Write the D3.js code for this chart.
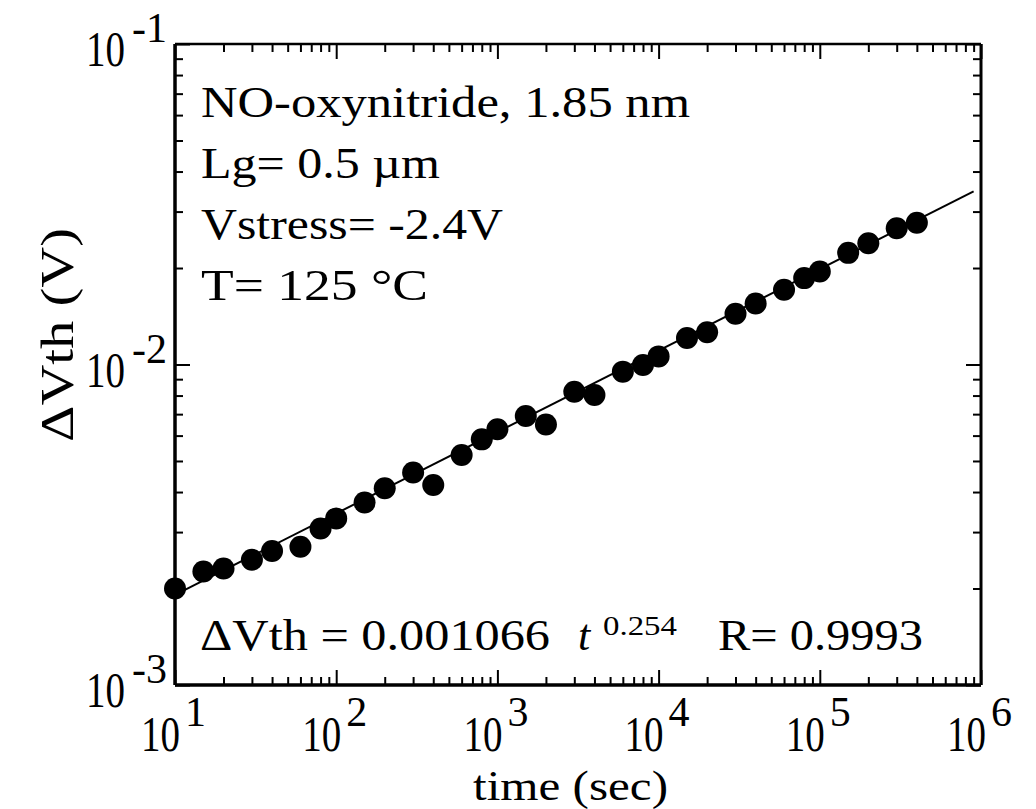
<!DOCTYPE html>
<html>
<head>
<meta charset="utf-8">
<script src="https://cdn.jsdelivr.net/npm/d3@7"></script>
<style>
  body { margin: 0; background: #fff; }
  text { font-family: "Liberation Serif", "Times New Roman", serif; fill: #000; }
</style>
</head>
<body>
<script>
// stress time (s) and threshold voltage shift (V)
const timeSec = [10, 15, 20, 30, 40, 60, 80, 100, 150, 200, 300, 400, 600, 800,
  1000, 1500, 2000, 3000, 4000, 6000, 8000, 10000, 15000, 20000, 30000, 40000,
  60000, 80000, 100000, 150000, 200000, 300000, 400000];
const dVth = [0.00200, 0.00226, 0.00231, 0.00246, 0.00262, 0.00270, 0.00308,
  0.00331, 0.00371, 0.00411, 0.00460, 0.00421, 0.00522, 0.00584, 0.00628,
  0.00691, 0.00650, 0.00822, 0.00803, 0.00950, 0.00996, 0.0106, 0.0121,
  0.0126, 0.0144, 0.0155, 0.0171, 0.0186, 0.0195, 0.0223, 0.0239, 0.0266, 0.0277];

// power-law fit line end points
const fitTime = [10, 900000];
const fitDVth = [0.00191, 0.0347];

const xExponents = [1, 2, 3, 4, 5, 6];
const yExponents = [-1, -2, -3];
const infoLines = ["NO-oxynitride, 1.85 nm", "Lg= 0.5 \u00b5m", "Vstress= -2.4V", "T= 125 \u00b0C"];
const fitLabel = "\u0394Vth = 0.001066";
const fitExponent = "0.254";
const rLabel = "R= 0.9993";

const width = 1036, height = 809;
const plotL = 175, plotR = 981, plotT = 44, plotB = 685;

const svg = d3.select("body").append("svg")
  .attr("width", width).attr("height", height);

const x = d3.scaleLog().domain([10, 1e6]).range([plotL, plotR]);
const y = d3.scaleLog().domain([1e-3, 1e-1]).range([plotB, plotT]);

// minor / major tick values
const xMinor = [], yMinor = [];
for (let e = 1; e < 6; e++) for (let m = 2; m < 10; m++) xMinor.push(m * Math.pow(10, e));
for (let e = -3; e < -1; e++) for (let m = 2; m < 10; m++) yMinor.push(m * Math.pow(10, e));
const xMajor = xExponents.map(e => Math.pow(10, e));
const yMajor = yExponents.map(e => Math.pow(10, e));

function ticks(axisFn, scale, values, size, tr) {
  const g = svg.append("g").attr("transform", tr)
    .call(axisFn(scale).tickValues(values).tickSize(size).tickFormat(""));
  g.select(".domain").remove();
  g.selectAll("line").attr("stroke", "#000").attr("stroke-width", 2);
}
ticks(d3.axisBottom, x, xMinor, -8, `translate(0,${plotB})`);
ticks(d3.axisBottom, x, xMajor, -15, `translate(0,${plotB})`);
ticks(d3.axisTop, x, xMinor, -8, `translate(0,${plotT})`);
ticks(d3.axisTop, x, xMajor, -15, `translate(0,${plotT})`);
ticks(d3.axisLeft, y, yMinor, -8, `translate(${plotL},0)`);
ticks(d3.axisLeft, y, yMajor, -15, `translate(${plotL},0)`);
ticks(d3.axisRight, y, yMinor, -8, `translate(${plotR},0)`);
ticks(d3.axisRight, y, yMajor, -15, `translate(${plotR},0)`);

// frame
svg.append("line").attr("x1", plotL).attr("x2", plotR).attr("y1", plotT).attr("y2", plotT)
  .attr("stroke", "#000").attr("stroke-width", 2.5);
svg.append("line").attr("x1", plotL).attr("x2", plotR).attr("y1", plotB).attr("y2", plotB)
  .attr("stroke", "#000").attr("stroke-width", 3.5);
svg.append("line").attr("x1", plotL).attr("x2", plotL).attr("y1", plotT).attr("y2", plotB)
  .attr("stroke", "#000").attr("stroke-width", 3.5);
svg.append("line").attr("x1", plotR).attr("x2", plotR).attr("y1", plotT).attr("y2", plotB)
  .attr("stroke", "#000").attr("stroke-width", 3);

// power-of-ten label: narrow "10" followed by a raised exponent
function powLabel(sel, baseX, baseY, supX, supY) {
  sel.append("text").attr("transform", `translate(${baseX},${baseY}) scale(0.78,1)`)
    .attr("font-size", 50).text("10");
  sel.append("text").attr("x", supX).attr("y", supY).attr("font-size", 42).text(d => d);
}

const xl = svg.append("g").selectAll("g").data(xExponents).join("g")
  .attr("transform", d => `translate(${x(Math.pow(10, d))},0)`);
powLabel(xl, -34, 751, 10, 726);

const yl = svg.append("g").selectAll("g").data(yExponents).join("g")
  .attr("transform", d => `translate(0,${y(Math.pow(10, d))})`);
powLabel(yl, 86, 22, 132, -2);

// axis titles
svg.append("text").attr("x", 473).attr("y", 800).attr("font-size", 42)
  .attr("textLength", 195).attr("lengthAdjust", "spacingAndGlyphs").text("time (sec)");
svg.append("text").attr("transform", "translate(73,442) rotate(-90)")
  .attr("font-size", 46).attr("textLength", 214).attr("lengthAdjust", "spacingAndGlyphs")
  .text("\u0394Vth (V)");

// fit line
const line = d3.line().x(d => x(d[0])).y(d => y(d[1]));
svg.append("path").datum(d3.zip(fitTime, fitDVth)).attr("d", line)
  .attr("fill", "none").attr("stroke", "#000").attr("stroke-width", 2);

// data points
svg.append("g").selectAll("circle").data(d3.zip(timeSec, dVth)).join("circle")
  .attr("cx", d => x(d[0])).attr("cy", d => y(d[1])).attr("r", 11).attr("fill", "#000");

// annotation block
const infoEnds = [690, 440, 503, 428];
svg.append("g").selectAll("text").data(infoLines).join("text")
  .attr("x", 201).attr("y", (d, i) => 117 + i * 61)
  .attr("font-size", 45)
  .attr("textLength", (d, i) => infoEnds[i] - 201).attr("lengthAdjust", "spacingAndGlyphs")
  .text(d => d);

// fit equation
svg.append("text").attr("x", 200).attr("y", 650).attr("font-size", 44)
  .attr("textLength", 350).attr("lengthAdjust", "spacingAndGlyphs").text(fitLabel);
svg.append("text").attr("x", 578).attr("y", 650).attr("font-size", 44)
  .attr("font-style", "italic").text("t");
svg.append("text").attr("x", 603).attr("y", 635).attr("font-size", 27)
  .attr("textLength", 74).attr("lengthAdjust", "spacingAndGlyphs").text(fitExponent);
svg.append("text").attr("x", 718).attr("y", 650).attr("font-size", 44)
  .attr("textLength", 205).attr("lengthAdjust", "spacingAndGlyphs").text(rLabel);
</script>
</body>
</html>
